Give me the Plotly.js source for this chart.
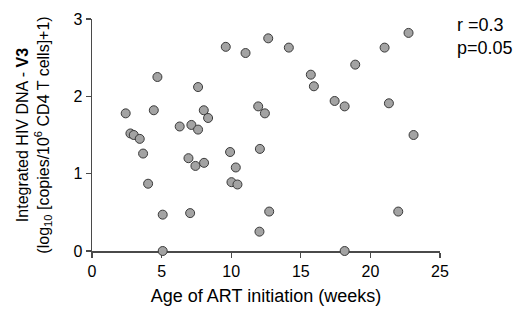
<!DOCTYPE html>
<html>
<head>
<meta charset="utf-8">
<script src="https://cdn.plot.ly/plotly-3.0.1.min.js"></script>
<style>html,body{margin:0;padding:0;background:#fff;}#chart{width:519px;height:310px;}</style>
</head>
<body>
<div id="chart"></div>
<script>
var ageWeeks = [2.42, 4.70, 4.44, 2.76, 3.00, 3.43, 6.30, 7.14, 7.62, 7.62, 8.03, 8.34, 9.61, 11.03, 11.94, 12.42, 12.66, 14.14, 15.72, 15.94, 17.43, 18.15, 18.91, 21.02, 22.74, 21.33, 23.10, 3.67, 4.03, 5.08, 5.08, 6.93, 7.43, 8.05, 7.05, 9.92, 10.33, 10.02, 10.45, 12.06, 12.73, 12.03, 22.00, 18.15];
var hivDNA = [1.78, 2.25, 1.82, 1.52, 1.50, 1.45, 1.61, 1.63, 1.57, 2.12, 1.82, 1.72, 2.64, 2.56, 1.87, 1.78, 2.75, 2.63, 2.28, 2.13, 1.94, 1.87, 2.41, 2.63, 2.82, 1.91, 1.50, 1.26, 0.87, 0.47, 0.00, 1.20, 1.10, 1.14, 0.49, 1.28, 1.08, 0.89, 0.86, 1.32, 0.51, 0.25, 0.51, 0.00];
var xTicks = [0, 5, 10, 15, 20, 25];
var yTicks = [0, 1, 2, 3];
var statLines = ['r =0.3', 'p=0.05'];

var trace = {
  x: ageWeeks, y: hivDNA, type: 'scatter', mode: 'markers', cliponaxis: false,
  marker: {size: 9, color: '#a3a3a3', line: {color: '#3a3a3a', width: 1}},
  hoverinfo: 'x+y'
};
var fontFam = 'Liberation Sans, Arial, sans-serif';
var layout = {
  width: 519, height: 310,
  margin: {l: 92, r: 79, t: 19, b: 59, pad: 0},
  paper_bgcolor: '#fff', plot_bgcolor: '#fff',
  showlegend: false,
  font: {family: fontFam, color: '#000', size: 16},
  xaxis: {
    range: [0, 25], tickvals: xTicks, ticktext: xTicks.map(String),
    showgrid: false, zeroline: false, showline: true, linecolor: '#4a4a4a', linewidth: 1.5,
    ticks: 'outside', ticklen: 5, tickwidth: 1.2, tickcolor: '#4a4a4a',
    tickfont: {size: 16, family: fontFam, color: '#000'},
    layer: 'below traces', fixedrange: true, automargin: false,
    title: {text: 'Age of ART initiation (weeks)', font: {size: 18, family: fontFam, color: '#000'}, standoff: 10}
  },
  yaxis: {
    range: [0, 3], tickvals: yTicks, ticktext: yTicks.map(String),
    showgrid: false, zeroline: false, showline: true, linecolor: '#4a4a4a', linewidth: 1.5,
    ticks: 'outside', ticklen: 5, tickwidth: 1.2, tickcolor: '#4a4a4a',
    tickfont: {size: 16, family: fontFam, color: '#000'},
    layer: 'below traces', fixedrange: true, automargin: false,
    title: {text: 'Integrated HIV DNA - <b>V3</b><br>(log<sub>10</sub> [copies/10<sup>6</sup> CD4 T cells]+1)', font: {size: 16, family: fontFam, color: '#000'}, standoff: 20}
  },
  annotations: statLines.map(function (t, i) {
    return {text: t, xref: 'paper', yref: 'paper', x: (455 - 92) / 348, y: (251 - (25 + 23 * i)) / 232,
      xanchor: 'left', yanchor: 'middle', showarrow: false, font: {size: 18, family: fontFam, color: '#000'}};
  })
};
Plotly.newPlot('chart', [trace], layout, {displayModeBar: false, staticPlot: true});
</script>
</body>
</html>
